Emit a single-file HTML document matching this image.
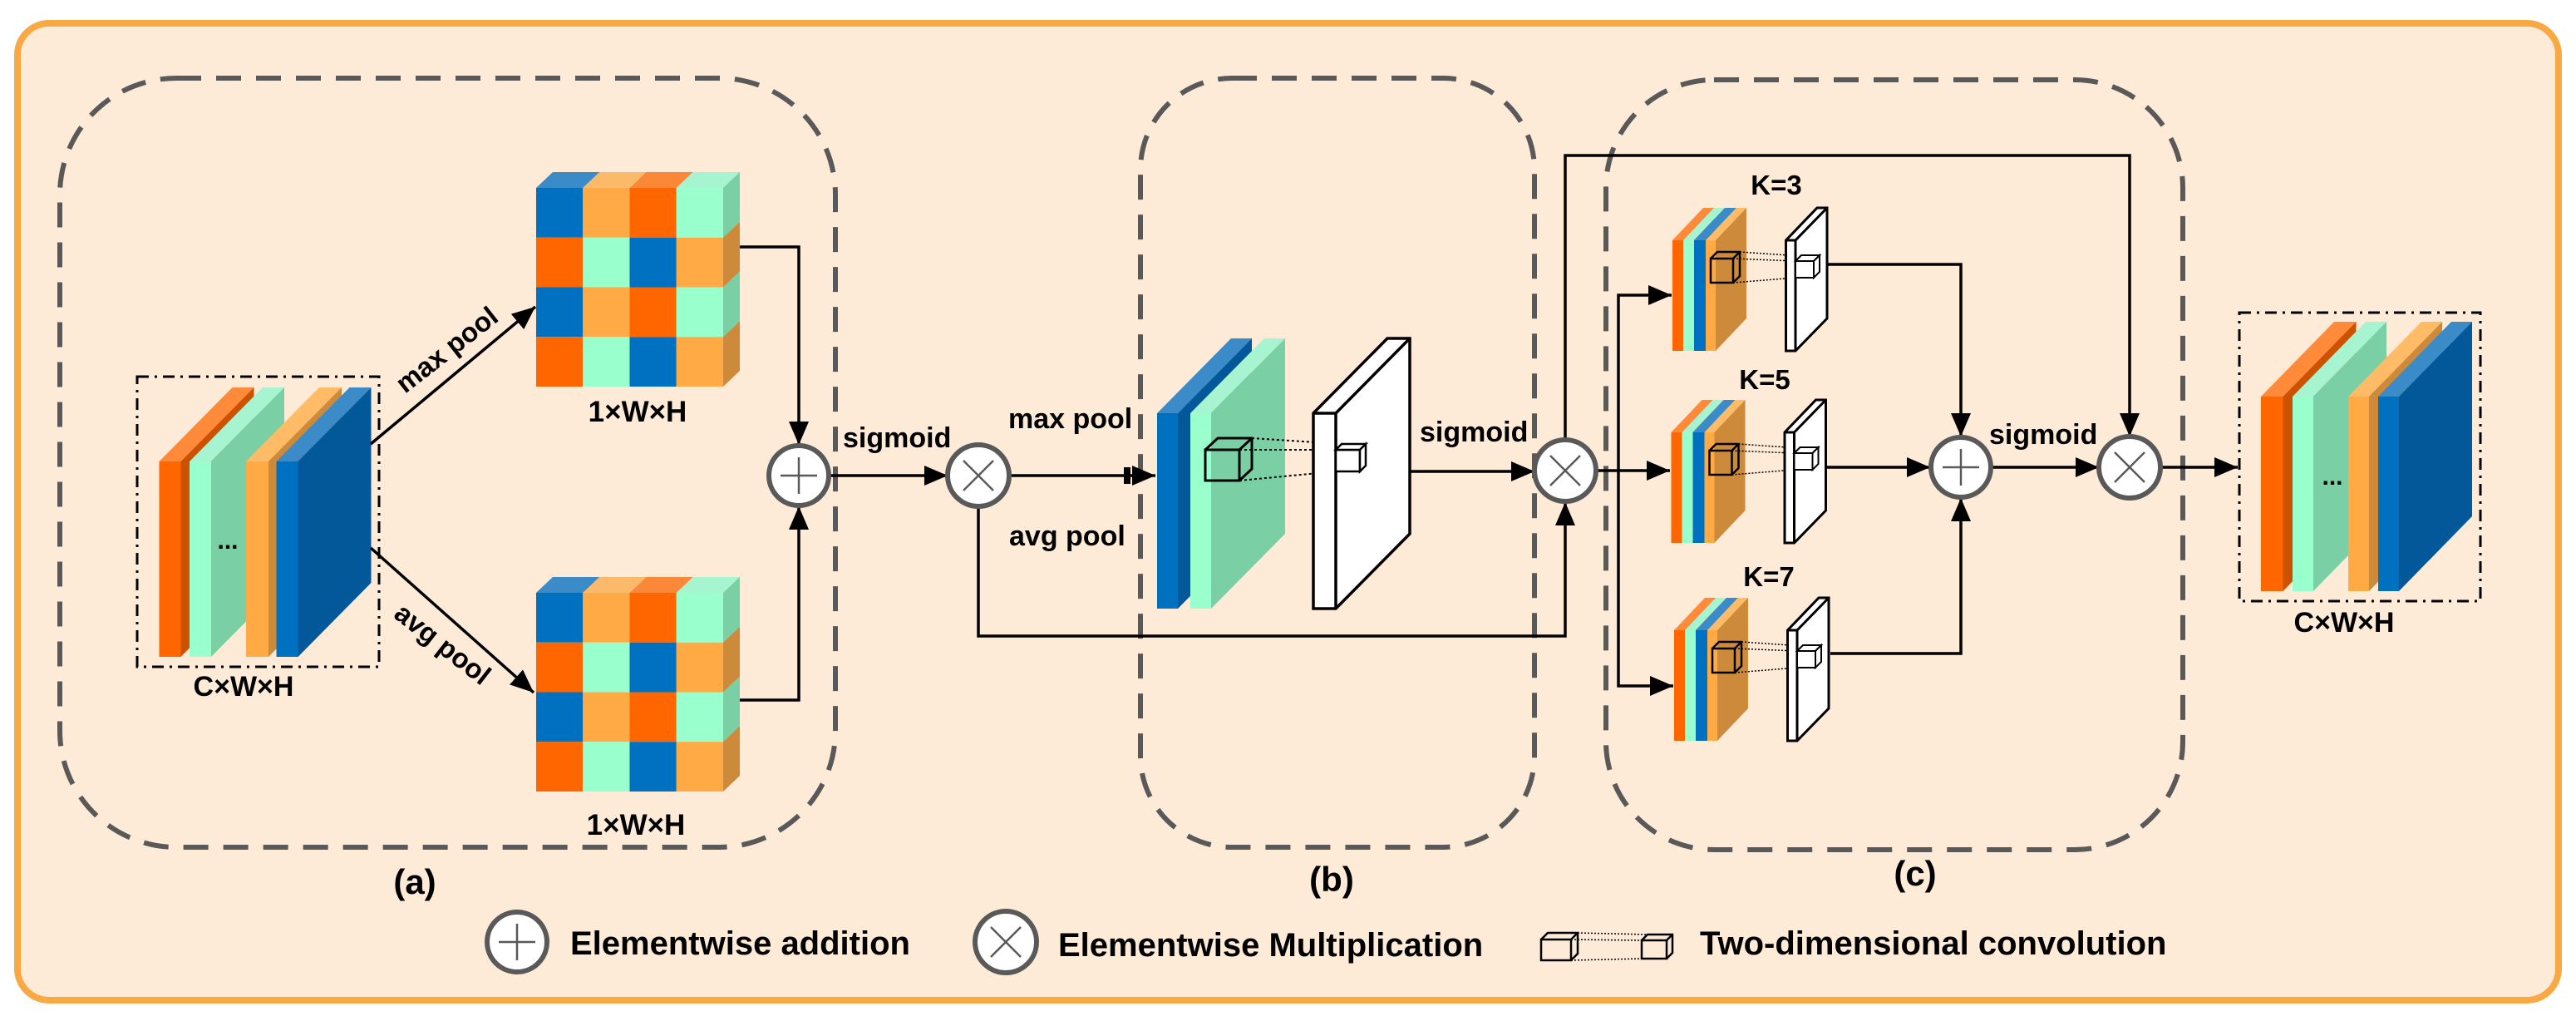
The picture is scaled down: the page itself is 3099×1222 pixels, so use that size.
<!DOCTYPE html>
<html><head><meta charset="utf-8"><style>
html,body{margin:0;padding:0;background:#fff}
svg{display:block}
text{font-family:"Liberation Sans",Arial,sans-serif;font-weight:bold;fill:#000}
</style></head><body>
<svg width="3099" height="1222" viewBox="0 0 3099 1222" xmlns="http://www.w3.org/2000/svg">
<defs>
<marker id="ah" markerUnits="userSpaceOnUse" markerWidth="30" markerHeight="24" refX="28" refY="12" orient="auto">
<path d="M0,0 L28,12 L0,24 z" fill="#000"/>
</marker>
<g id="grid">
<polygon points="645,226 701.25,226 721.25,207 665,207" fill="#3A8BC8"/>
<polygon points="701.25,226 757.5,226 777.5,207 721.25,207" fill="#FBBA6A"/>
<polygon points="757.5,226 813.75,226 833.75,207 777.5,207" fill="#FA8838"/>
<polygon points="813.75,226 870,226 890,207 833.75,207" fill="#A6F5D0"/>
<polygon points="870,226 890,207 890,266.75 870,285.75" fill="#7ACFA5"/>
<polygon points="870,285.75 890,266.75 890,326.5 870,345.5" fill="#CC8A3A"/>
<polygon points="870,345.5 890,326.5 890,386.25 870,405.25" fill="#7ACFA5"/>
<polygon points="870,405.25 890,386.25 890,446 870,465" fill="#CC8A3A"/>
<rect x="645" y="226" width="56.25" height="59.75" fill="#0070C0"/>
<rect x="701.25" y="226" width="56.25" height="59.75" fill="#FFAA44"/>
<rect x="757.5" y="226" width="56.25" height="59.75" fill="#FF6600"/>
<rect x="813.75" y="226" width="56.25" height="59.75" fill="#99FFCC"/>
<rect x="645" y="285.75" width="56.25" height="59.75" fill="#FF6600"/>
<rect x="701.25" y="285.75" width="56.25" height="59.75" fill="#99FFCC"/>
<rect x="757.5" y="285.75" width="56.25" height="59.75" fill="#0070C0"/>
<rect x="813.75" y="285.75" width="56.25" height="59.75" fill="#FFAA44"/>
<rect x="645" y="345.5" width="56.25" height="59.75" fill="#0070C0"/>
<rect x="701.25" y="345.5" width="56.25" height="59.75" fill="#FFAA44"/>
<rect x="757.5" y="345.5" width="56.25" height="59.75" fill="#FF6600"/>
<rect x="813.75" y="345.5" width="56.25" height="59.75" fill="#99FFCC"/>
<rect x="645" y="405.25" width="56.25" height="59.75" fill="#FF6600"/>
<rect x="701.25" y="405.25" width="56.25" height="59.75" fill="#99FFCC"/>
<rect x="757.5" y="405.25" width="56.25" height="59.75" fill="#0070C0"/>
<rect x="813.75" y="405.25" width="56.25" height="59.75" fill="#FFAA44"/>
</g>
<g id="kmod">
<polygon points="2012,289 2049,250 2062,250 2025,289" fill="#FF8A3A"/>
<polygon points="2025,289 2062,250 2062,383 2025,422" fill="#CC5200"/>
<rect x="2012" y="289" width="13" height="133" fill="#FF6600"/>
<polygon points="2025,289 2062,250 2075,250 2038,289" fill="#A6F5D0"/>
<rect x="2025" y="289" width="13" height="133" fill="#99FFCC"/>
<polygon points="2038,289 2075,250 2089,250 2052,289" fill="#3A8BC8"/>
<rect x="2038" y="289" width="14" height="133" fill="#0070C0"/>
<polygon points="2052,289 2089,250 2101,250 2064,289" fill="#FFBB66"/>
<polygon points="2064,289 2101,250 2101,383 2064,422" fill="#CC8A3A"/>
<rect x="2052" y="289" width="12" height="133" fill="#FFAA44"/>
<g fill="none" stroke="#000" stroke-width="2.5">
<rect x="2058" y="311" width="27" height="29"/>
<polyline points="2058,311 2066,303 2093,303 2093,332 2085,340"/>
<line x1="2085" y1="311" x2="2093" y2="303"/>
</g>
<g stroke="#000" stroke-width="1.5" stroke-dasharray="2 2">
<line x1="2085" y1="311" x2="2160" y2="314"/>
<line x1="2093" y1="303" x2="2166" y2="308"/>
<line x1="2085" y1="340" x2="2160" y2="334"/>
</g>
<polygon points="2148.5,289 2186,250 2198,250 2198,383 2160,422 2148.5,422" fill="#fff" stroke="#000" stroke-width="3"/>
<polyline points="2148.5,289 2160,289 2198,250" fill="none" stroke="#000" stroke-width="3"/>
<line x1="2160" y1="289" x2="2160" y2="422" stroke="#000" stroke-width="3"/>
<g fill="#fff" stroke="#000" stroke-width="2">
<rect x="2160" y="314" width="22" height="20"/>
<polygon points="2160,314 2167,307 2189,307 2182,314"/>
<polygon points="2182,314 2189,307 2189,327 2182,334"/>
</g>
</g>
</defs>

<rect x="0" y="0" width="3099" height="1222" fill="#fff"/>
<rect x="21" y="28" width="3057" height="1175" rx="38" fill="#FDEBD8" stroke="#F8A944" stroke-width="8"/>

<!-- dashed boxes -->
<g fill="none" stroke="#595959" stroke-width="6" stroke-dasharray="30 18">
<rect x="72" y="94" width="933" height="925" rx="140"/>
<rect x="1372" y="94" width="474" height="925" rx="110"/>
<rect x="1932" y="96" width="694" height="926" rx="130"/>
</g>

<!-- (a) input -->
<rect x="165" y="453" width="291" height="349" fill="none" stroke="#000" stroke-width="3" stroke-dasharray="14 7 3 7"/>
<polygon points="191.5,555 279.5,466 305.5,466 217.5,555" fill="#FF8A3A"/>
<polygon points="217.5,555 305.5,466 305.5,701 217.5,790" fill="#CC5200"/>
<rect x="191.5" y="555" width="26" height="235" fill="#FF6600"/>
<polygon points="228,555 316,466 342,466 254,555" fill="#A6F5D0"/>
<polygon points="254,555 342,466 342,701 254,790" fill="#7ACFA5"/>
<rect x="228" y="555" width="26" height="235" fill="#99FFCC"/>
<polygon points="296,555 384,466 411,466 323,555" fill="#FFBB66"/>
<polygon points="323,555 411,466 411,701 323,790" fill="#CC8A3A"/>
<rect x="296" y="555" width="27" height="235" fill="#FFAA44"/>
<polygon points="332.5,555 420.5,466 446.5,466 358.5,555" fill="#3A8BC8"/>
<polygon points="358.5,555 446.5,466 446.5,701 358.5,790" fill="#03589A"/>
<rect x="332.5" y="555" width="26" height="235" fill="#0070C0"/>
<text x="274" y="660" font-size="30" text-anchor="middle">...</text>
<text x="293" y="837" font-size="34" text-anchor="middle">C×W×H</text>

<use href="#grid"/>
<use href="#grid" transform="translate(0,487)"/>
<text x="767" y="507" font-size="35" text-anchor="middle">1×W×H</text>
<text x="765" y="1004" font-size="35" text-anchor="middle">1×W×H</text>

<g stroke="#000" stroke-width="3.5" fill="none" marker-end="url(#ah)">
<line x1="446" y1="534" x2="644" y2="369"/>
<line x1="446" y1="659" x2="642" y2="833"/>
<polyline points="890,297 961,297 961,535"/>
<polyline points="890,842 961,842 961,609"/>
<line x1="998" y1="572" x2="1140" y2="572"/>
<line x1="1214" y1="572" x2="1390" y2="572"/>
<polyline points="1177,609 1177,765 1883,765 1883,604"/>
<line x1="1696" y1="567" x2="1846" y2="567"/>
<polyline points="1883,529 1883,187 2562,187 2562,525"/>
<line x1="1920" y1="566" x2="2009" y2="566"/>
<polyline points="1947,566 1947,355 2011,355"/>
<polyline points="1947,566 1947,825 2013,825"/>
<polyline points="2198,318 2359,318 2359,525"/>
<line x1="2198" y1="562" x2="2322" y2="562"/>
<polyline points="2202,786 2359,786 2359,599"/>
<line x1="2396" y1="562" x2="2525" y2="562"/>
<line x1="2599" y1="562" x2="2692" y2="562"/>
</g>
<rect x="1352" y="562" width="8" height="20" fill="#000"/>

<text x="537" y="432" font-size="33" text-anchor="middle" transform="rotate(-38 537 420)">max pool</text>
<text x="533" y="786" font-size="33" text-anchor="middle" transform="rotate(38 533 774)">avg pool</text>

<text x="1014" y="538" font-size="34">sigmoid</text>
<text x="1213" y="515" font-size="34">max pool</text>
<text x="1214" y="656" font-size="34">avg pool</text>
<text x="1708" y="531" font-size="34">sigmoid</text>
<text x="2393" y="534" font-size="34">sigmoid</text>

<!-- (b) -->
<polygon points="1392,497 1481,407 1506,407 1417,497" fill="#3A8BC8"/>
<polygon points="1417,497 1506,407 1506,642 1417,732" fill="#03589A"/>
<rect x="1392" y="497" width="25" height="235" fill="#0070C0"/>
<polygon points="1432,497 1521,407 1546,407 1457,497" fill="#A6F5D0"/>
<polygon points="1457,497 1546,407 1546,642 1457,732" fill="#7ACFA5"/>
<rect x="1432" y="497" width="25" height="235" fill="#99FFCC"/>
<g fill="none" stroke="#000" stroke-width="3">
<rect x="1450" y="541" width="41" height="37"/>
<polyline points="1450,541 1465,527 1506,527 1506,564 1491,578"/>
<line x1="1491" y1="541" x2="1506" y2="527"/>
</g>
<g stroke="#000" stroke-width="2" stroke-dasharray="3 3">
<line x1="1491" y1="541" x2="1607" y2="541"/>
<line x1="1506" y1="527" x2="1614" y2="534"/>
<line x1="1491" y1="578" x2="1607" y2="567"/>
</g>
<polygon points="1580,497 1669,407 1696,407 1696,642 1607,732 1580,732" fill="#fff" stroke="#000" stroke-width="3.5"/>
<polyline points="1580,497 1607,497 1696,407" fill="none" stroke="#000" stroke-width="3.5"/>
<line x1="1607" y1="497" x2="1607" y2="732" stroke="#000" stroke-width="3.5"/>
<g fill="#fff" stroke="#000" stroke-width="2.5">
<rect x="1607" y="541" width="29" height="26"/>
<polygon points="1607,541 1614,534 1643,534 1636,541"/>
<polygon points="1636,541 1643,534 1643,560 1636,567"/>
</g>

<!-- (c) -->
<use href="#kmod"/>
<use href="#kmod" transform="translate(-1.5,231)"/>
<use href="#kmod" transform="translate(2,469)"/>
<text x="2137" y="234" font-size="33" text-anchor="middle">K=3</text>
<text x="2123" y="468" font-size="33" text-anchor="middle">K=5</text>
<text x="2128" y="705" font-size="33" text-anchor="middle">K=7</text>

<!-- output -->
<rect x="2694" y="376" width="290" height="347" fill="none" stroke="#000" stroke-width="3" stroke-dasharray="14 7 3 7"/>
<polygon points="2720,477 2808,387 2834.5,387 2746.5,477" fill="#FF8A3A"/>
<polygon points="2746.5,477 2834.5,387 2834.5,621 2746.5,711" fill="#CC5200"/>
<rect x="2720" y="477" width="26.5" height="234" fill="#FF6600"/>
<polygon points="2758,477 2846,387 2871,387 2783,477" fill="#A6F5D0"/>
<polygon points="2783,477 2871,387 2871,621 2783,711" fill="#7ACFA5"/>
<rect x="2758" y="477" width="25" height="234" fill="#99FFCC"/>
<polygon points="2825,477 2913,387 2938,387 2850,477" fill="#FFBB66"/>
<polygon points="2850,477 2938,387 2938,621 2850,711" fill="#CC8A3A"/>
<rect x="2825" y="477" width="25" height="234" fill="#FFAA44"/>
<polygon points="2861,477 2949,387 2974,387 2886,477" fill="#3A8BC8"/>
<polygon points="2886,477 2974,387 2974,621 2886,711" fill="#03589A"/>
<rect x="2861" y="477" width="25" height="234" fill="#0070C0"/>
<text x="2806" y="583" font-size="30" text-anchor="middle">...</text>
<text x="2820" y="760" font-size="34" text-anchor="middle">C×W×H</text>

<!-- circles -->
<g fill="#fff" stroke="#595959" stroke-width="6">
<circle cx="961" cy="572" r="36"/>
<circle cx="1177" cy="572" r="37"/>
<circle cx="1883" cy="566" r="37"/>
<circle cx="2359" cy="562" r="36"/>
<circle cx="2562" cy="562" r="37"/>
<circle cx="622" cy="1133" r="36"/>
<circle cx="1210" cy="1133" r="37"/>
</g>
<g stroke="#595959" stroke-width="2.5">
<line x1="939" y1="572" x2="983" y2="572"/><line x1="961" y1="550" x2="961" y2="594"/>
<line x1="2337" y1="562" x2="2381" y2="562"/><line x1="2359" y1="540" x2="2359" y2="584"/>
<line x1="600" y1="1133" x2="644" y2="1133"/><line x1="622" y1="1111" x2="622" y2="1155"/>
<line x1="1159" y1="554" x2="1195" y2="590"/><line x1="1195" y1="554" x2="1159" y2="590"/>
<line x1="1865" y1="548" x2="1901" y2="584"/><line x1="1901" y1="548" x2="1865" y2="584"/>
<line x1="2544" y1="544" x2="2580" y2="580"/><line x1="2580" y1="544" x2="2544" y2="580"/>
<line x1="1192" y1="1115" x2="1228" y2="1151"/><line x1="1228" y1="1115" x2="1192" y2="1151"/>
</g>

<!-- labels -->
<text x="499" y="1075" font-size="42" text-anchor="middle">(a)</text>
<text x="1602" y="1072" font-size="42" text-anchor="middle">(b)</text>
<text x="2304" y="1065" font-size="42" text-anchor="middle">(c)</text>

<!-- legend -->
<text x="686" y="1148" font-size="40">Elementwise addition</text>
<text x="1273" y="1150" font-size="40">Elementwise Multiplication</text>
<g fill="none" stroke="#000" stroke-width="2.5">
<rect x="1854" y="1130" width="36" height="25"/>
<polyline points="1854,1130 1862,1122 1898,1122 1898,1147 1890,1155"/>
<line x1="1890" y1="1130" x2="1898" y2="1122"/>
<rect x="1975" y="1131" width="30" height="22"/>
<polyline points="1975,1131 1982,1124 2012,1124 2012,1146 2005,1153"/>
<line x1="2005" y1="1131" x2="2012" y2="1124"/>
</g>
<g stroke="#000" stroke-width="1.5" stroke-dasharray="2 2">
<line x1="1890" y1="1130" x2="1975" y2="1131"/>
<line x1="1898" y1="1122" x2="1982" y2="1124"/>
<line x1="1890" y1="1155" x2="1975" y2="1153"/>
</g>
<text x="2045" y="1148" font-size="40">Two-dimensional convolution</text>
</svg>
</body></html>
